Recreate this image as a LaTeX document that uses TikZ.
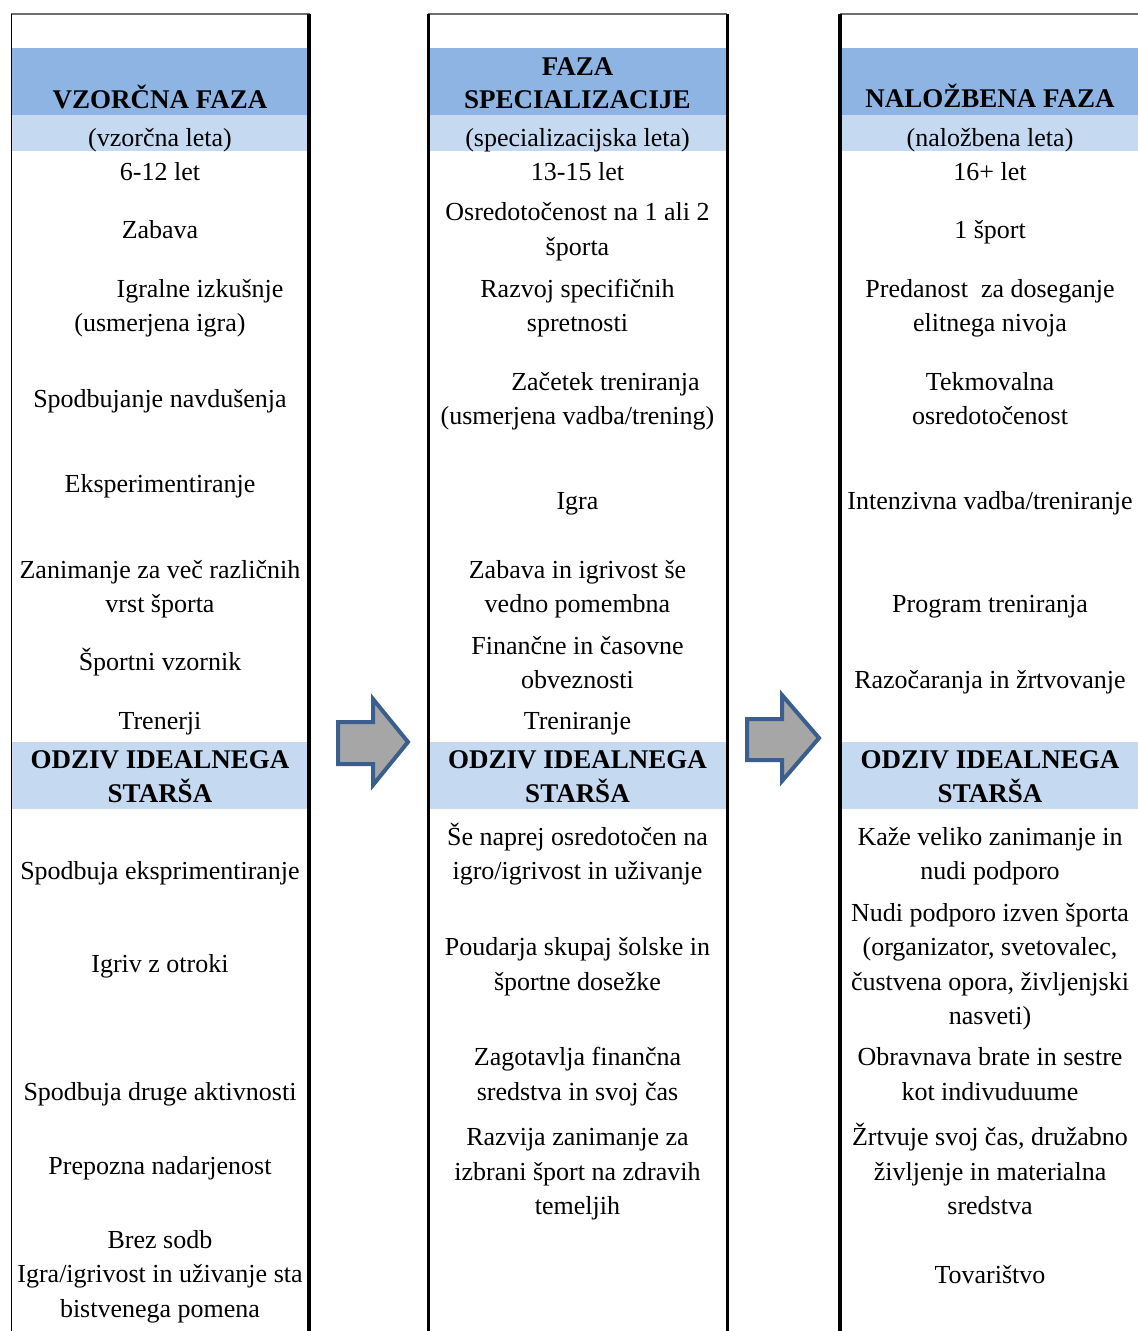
\documentclass[tikz,border=0pt]{standalone}
\usepackage{fontspec}
\setmainfont{Liberation Serif}
\definecolor{hdrdark}{HTML}{8DB4E2}
\definecolor{hdrlight}{HTML}{C5D9F1}
\definecolor{arrowedge}{HTML}{3A5F8E}
\definecolor{arrowfill}{HTML}{A6A6A6}
\definecolor{rulegray}{HTML}{6E6E6E}
\tikzset{
  txt/.style={align=center, inner sep=0pt, yshift=-1.5pt, font=\fontsize{26}{34.5}\selectfont},
  hdr/.style={align=center, inner sep=0pt, yshift=-1.5pt, font=\fontsize{27}{33}\selectfont\bfseries},
  darkband/.style={fill=hdrdark},
  lightband/.style={fill=hdrlight},
  blockarrow/.style={draw=arrowedge, fill=arrowfill, line width=4pt, line join=miter},
  thickrule/.style={line width=3.4pt, black},
  thinrule/.style={line width=1.5pt, black},
  toprule/.style={line width=1.3pt, rulegray},
}
\begin{document}
\begin{tikzpicture}[x=1pt,y=-1pt]
\useasboundingbox[fill=white] (0,0) rectangle (1138,1331);
% bands
\fill[darkband] (12,48) rectangle (308,115);
\fill[lightband] (12,115) rectangle (308,151);
\fill[lightband] (12,742) rectangle (308,809);
\fill[darkband] (429,48) rectangle (726,115);
\fill[lightband] (429,115) rectangle (726,151);
\fill[lightband] (429,742) rectangle (726,809);
\fill[darkband] (842,48) rectangle (1138,115);
\fill[lightband] (842,115) rectangle (1138,151);
\fill[lightband] (842,742) rectangle (1138,809);
% column rules
\draw[toprule] (11,14) -- (310,14);
\draw[thinrule] (11.5,14) -- (11.5,1331);
\draw[thickrule] (309,13.5) -- (309,1331);
\draw[toprule] (428,14) -- (727,14);
\draw[thickrule] (428.3,13.5) -- (428.3,1331);
\draw[thickrule] (727.3,13.5) -- (727.3,1331);
\draw[toprule] (840,14) -- (1138,14);
\draw[line width=4pt, black] (840.3,13.5) -- (840.3,1331);
% block arrows
\draw[blockarrow] (338,722) -- (373,722) -- (373,699) -- (408,742) -- (373,785) -- (373,764) -- (338,764) -- cycle;
\draw[blockarrow] (747,719) -- (782,719) -- (782,695) -- (819,738) -- (782,781) -- (782,760) -- (747,760) -- cycle;
% column 1
\node[hdr] (h1) at (160,100) {\strut VZORČNA FAZA};
\node[txt] (s1) at (160,138.5) {\strut (vzorčna leta)};
\node[txt] (a1) at (160,172) {\strut 6-12 let};
\node[txt] (a2) at (160,230) {\strut Zabava};
\node[txt] (a3) at (160,306) {\strut\hspace*{80pt}Igralne izkušnje\\\strut (usmerjena igra)};
\node[txt] (a4) at (160,399) {\strut Spodbujanje navdušenja};
\node[txt] (a5) at (160,484) {\strut Eksperimentiranje};
\node[txt] (a6) at (160,587) {\strut Zanimanje za več različnih\\\strut vrst športa};
\node[txt] (a7) at (160,662) {\strut Športni vzornik};
\node[txt] (a8) at (160,721) {\strut Trenerji};
\node[hdr] (r1) at (160,777.3) {\strut ODZIV IDEALNEGA\\\strut STARŠA};
\node[txt] (a9) at (160,871) {\strut Spodbuja eksprimentiranje};
\node[txt] (a10) at (160,964) {\strut Igriv z otroki};
\node[txt] (a11) at (160,1092) {\strut Spodbuja druge aktivnosti};
\node[txt] (a12) at (160,1166) {\strut Prepozna nadarjenost};
\node[txt] (a13) at (160,1274.5) {\strut Brez sodb\\\strut Igra/igrivost in uživanje sta\\\strut bistvenega pomena};
% column 2
\node[hdr] (h2) at (577.5,83.4) {\strut FAZA\\\strut SPECIALIZACIJE};
\node[txt] (s2) at (577.5,138.5) {\strut (specializacijska leta)};
\node[txt] (b1) at (577.5,172) {\strut 13-15 let};
\node[txt] (b2) at (577.5,229.5) {\strut Osredotočenost na 1 ali 2\\\strut športa};
\node[txt] (b3) at (577.5,306) {\strut Razvoj specifičnih\\\strut spretnosti};
\node[txt] (b4) at (577.5,399) {\strut\hspace*{56pt}Začetek treniranja\\\strut (usmerjena vadba/trening)};
\node[txt] (b5) at (577.5,501) {\strut Igra};
\node[txt] (b6) at (577.5,587) {\strut Zabava in igrivost še\\\strut vedno pomembna};
\node[txt] (b7) at (577.5,663) {\strut Finančne in časovne\\\strut obveznosti};
\node[txt] (b8) at (577.5,721) {\strut Treniranje};
\node[hdr] (r2) at (577.5,777.3) {\strut ODZIV IDEALNEGA\\\strut STARŠA};
\node[txt] (b9) at (577.5,854) {\strut Še naprej osredotočen na\\\strut igro/igrivost in uživanje};
\node[txt] (b10) at (577.5,964.5) {\strut Poudarja skupaj šolske in\\\strut športne dosežke};
\node[txt] (b11) at (577.5,1074.5) {\strut Zagotavlja finančna\\\strut sredstva in svoj čas};
\node[txt] (b12) at (577.5,1172) {\strut Razvija zanimanje za\\\strut izbrani šport na zdravih\\\strut temeljih};
% column 3
\node[hdr] (h3) at (990,99.5) {\strut NALOŽBENA FAZA};
\node[txt] (s3) at (990,138.5) {\strut (naložbena leta)};
\node[txt] (c1) at (990,172) {\strut 16+ let};
\node[txt] (c2) at (990,230) {\strut 1 šport};
\node[txt] (c3) at (990,306) {\strut Predanost~ za doseganje\\\strut elitnega nivoja};
\node[txt] (c4) at (990,399) {\strut Tekmovalna\\\strut osredotočenost};
\node[txt] (c5) at (990,501) {\strut Intenzivna vadba/treniranje};
\node[txt] (c6) at (990,604) {\strut Program treniranja};
\node[txt] (c7) at (990,680) {\strut Razočaranja in žrtvovanje};
\node[hdr] (r3) at (990,777.3) {\strut ODZIV IDEALNEGA\\\strut STARŠA};
\node[txt] (c8) at (990,854) {\strut Kaže veliko zanimanje in\\\strut nudi podporo};
\node[txt] (c9) at (990,964.5) {\strut Nudi podporo izven športa\\\strut (organizator, svetovalec,\\\strut čustvena opora, življenjski\\\strut nasveti)};
\node[txt] (c10) at (990,1074.5) {\strut Obravnava brate in sestre\\\strut kot indivuduume};
\node[txt] (c11) at (990,1172) {\strut Žrtvuje svoj čas, družabno\\\strut življenje in materialna\\\strut sredstva};
\node[txt] (c12) at (990,1275) {\strut Tovarištvo};
\end{tikzpicture}
\end{document}
